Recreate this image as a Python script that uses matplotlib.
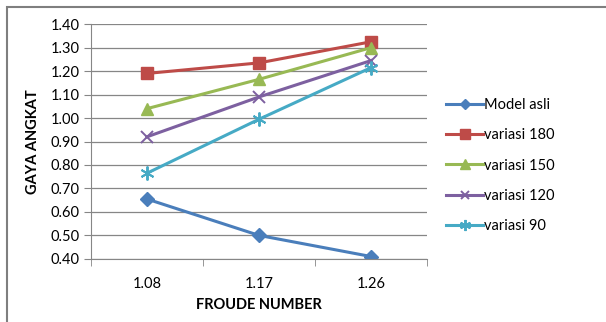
import numpy as np
import matplotlib.pyplot as plt
from matplotlib.patches import Rectangle

# data
froude = ['1.08', '1.17', '1.26']
model_asli = [0.655, 0.50, 0.41]
variasi_180 = [1.19, 1.235, 1.325]
variasi_150 = [1.04, 1.165, 1.30]
variasi_120 = [0.92, 1.09, 1.245]
variasi_90 = [0.765, 0.995, 1.215]
y_ticks = [0.40, 0.50, 0.60, 0.70, 0.80, 0.90, 1.00, 1.10, 1.20, 1.30, 1.40]

plt.rcParams['font.family'] = ['Lato', 'DejaVu Sans']

fig = plt.figure(figsize=(6.06, 3.22), dpi=100)
ax = fig.add_axes([0.150, 0.196, 0.555, 0.729])

# outer chart frame (only top/left visible in the crop)
fig.patches.append(Rectangle((7 / 606, -0.1), 1.2, 1 - 7 / 322 + 0.1,
                             transform=fig.transFigure, fill=False,
                             edgecolor='#7f7f7f', linewidth=1.5))

x = np.arange(len(froude))
series = [
    ('Model asli', model_asli, '#4a7ebb', 'D', 7),
    ('variasi 180', variasi_180, '#be4b48', 's', 9),
    ('variasi 150', variasi_150, '#98b954', '^', 9),
    ('variasi 120', variasi_120, '#7d60a0', 'x', 8),
    ('variasi 90', variasi_90, '#46aac5', (6, 2, 0), 10),
]
for name, vals, col, mk, ms in series:
    ax.plot(x, vals, color=col, linewidth=2.2, label=name, marker=mk,
            markersize=ms, markeredgewidth=1 if mk in ('D', 's', '^') else 1.4,
            markeredgecolor=col)

ax.set_xlim(-0.5, 2.5)
ax.set_ylim(0.40, 1.40)
ax.set_yticks(y_ticks)
ax.set_yticklabels(['%.2f' % v for v in y_ticks])
ax.set_xticks(x)
ax.set_xticklabels(froude)
ax.set_xticks([-0.5, 0.5, 1.5, 2.5], minor=True)
ax.tick_params(axis='x', which='major', length=0, pad=13, labelsize=10.5)
ax.tick_params(axis='x', which='minor', length=5, color='#868686')
ax.tick_params(axis='y', length=5, color='#868686', labelsize=10.5, pad=3)

ax.grid(axis='y', color='#868686', linewidth=0.9)
ax.set_axisbelow(True)
for s in ['top', 'right']:
    ax.spines[s].set_visible(False)
for s in ['left', 'bottom']:
    ax.spines[s].set_color('#868686')

ax.set_xlabel('FROUDE NUMBER', fontsize=10.5, fontweight='bold', labelpad=5)
ax.set_ylabel('GAYA ANGKAT', fontsize=10.5, fontweight='bold', labelpad=8)

fig.legend(loc='upper left', bbox_to_anchor=(0.727, 0.714), frameon=False,
           fontsize=10.5, handlelength=2.5, handletextpad=0.1,
           labelspacing=1.12, borderaxespad=0, markerscale=0.8)

plt.savefig('out.png', dpi=100)
